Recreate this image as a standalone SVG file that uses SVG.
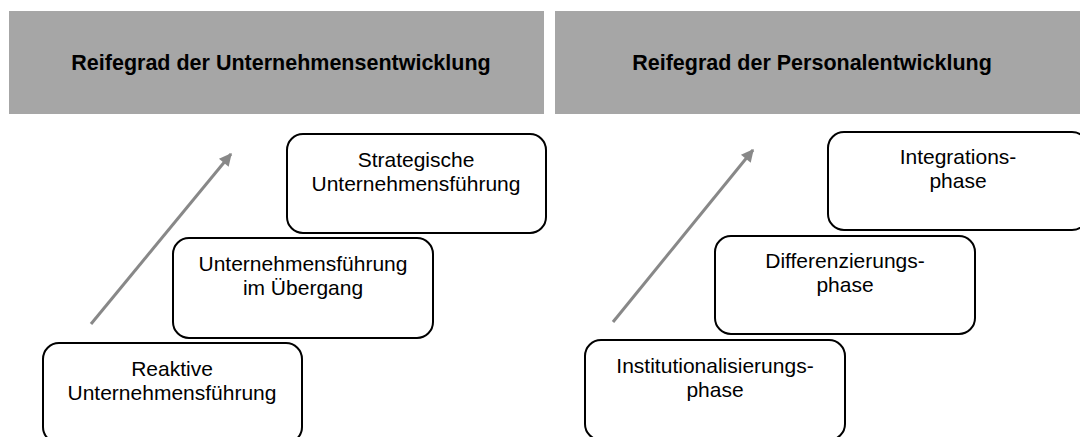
<svg xmlns="http://www.w3.org/2000/svg" width="1080" height="437" viewBox="0 0 1080 437">
<style>
.hdr{fill:#a6a6a6}
.ht{font-family:"Liberation Sans",Arial,sans-serif;font-weight:bold;font-size:21.5px;fill:#000;text-anchor:middle}
.box{fill:#fff;stroke:#000;stroke-width:2}
.bt{font-family:"Liberation Sans",Arial,sans-serif;font-size:21px;fill:#000;text-anchor:middle}
.arr{stroke:#888;stroke-width:3;fill:none}
</style>
<defs>
<marker id="ah" viewBox="0 0 10 10" refX="9" refY="5" markerWidth="4.8" markerHeight="4.2" orient="auto" markerUnits="strokeWidth">
<path d="M0,0 L10,5 L0,10 z" fill="#888"/>
</marker>
</defs>
<rect width="1080" height="437" fill="#fff"/>
<g id="header-left"><rect class="hdr" x="9" y="11" width="535" height="103"/><text class="ht" x="281" y="70">Reifegrad der Unternehmensentwicklung</text></g>
<g id="header-right"><rect class="hdr" x="555" y="11" width="525" height="103"/><text class="ht" x="812" y="70">Reifegrad der Personalentwicklung</text></g>
<g id="connectors">
<line class="arr" x1="91" y1="324" x2="231" y2="154" marker-end="url(#ah)"/>
<line class="arr" x1="613" y1="322" x2="753" y2="150" marker-end="url(#ah)"/>
</g>
<g id="n-strategische"><rect class="box" x="287" y="134" width="259" height="99" rx="16"/><text class="bt" x="416" y="167">Strategische</text><text class="bt" x="416" y="191">Unternehmensführung</text></g>
<g id="n-uebergang"><rect class="box" x="173" y="238" width="260" height="100" rx="16"/><text class="bt" x="303" y="271">Unternehmensführung</text><text class="bt" x="303" y="295">im Übergang</text></g>
<g id="n-reaktiv"><rect class="box" x="43" y="343" width="259" height="100" rx="16"/><text class="bt" x="172" y="376">Reaktive</text><text class="bt" x="172" y="400">Unternehmensführung</text></g>
<g id="n-integration"><rect class="box" x="828" y="132" width="260" height="98" rx="16"/><text class="bt" x="958" y="164">Integrations-</text><text class="bt" x="958" y="188">phase</text></g>
<g id="n-differenzierung"><rect class="box" x="715" y="236" width="260" height="98" rx="16"/><text class="bt" x="845" y="268">Differenzierungs-</text><text class="bt" x="845" y="292">phase</text></g>
<g id="n-institution"><rect class="box" x="585" y="340" width="260" height="100" rx="16"/><text class="bt" x="715" y="373">Institutionalisierungs-</text><text class="bt" x="715" y="397">phase</text></g>
</svg>
